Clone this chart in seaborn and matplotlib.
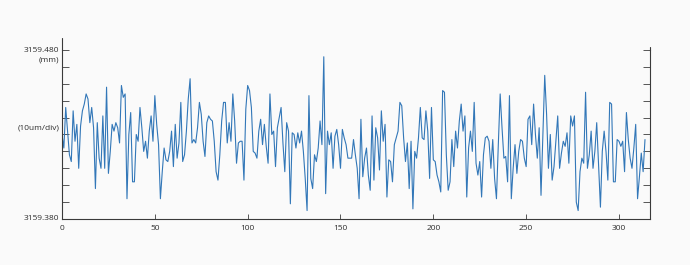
import matplotlib
matplotlib.use("Agg")
import matplotlib.pyplot as plt
import seaborn as sns
import numpy as np
import pandas as pd

# deviation above 3159.380 mm, in micrometres (10 um per division)
base_mm = 3159.380
dev_um = [
    50, 42, 66, 52, 38, 34, 64, 46, 56, 30,
    55, 64, 68, 74, 71, 57, 66, 54, 18, 57,
    36, 30, 61, 30, 78, 27, 40, 56, 52, 57,
    54, 45, 79, 72, 74, 12, 50, 63, 22, 22,
    50, 46, 66, 54, 40, 46, 36, 52, 61, 46,
    73, 56, 44, 12, 28, 42, 35, 34, 40, 52,
    31, 56, 36, 45, 69, 34, 38, 52, 71, 83,
    45, 47, 45, 54, 69, 62, 46, 37, 57, 61,
    59, 58, 46, 28, 23, 38, 58, 69, 69, 45,
    57, 46, 74, 58, 33, 45, 46, 46, 23, 65,
    79, 76, 66, 40, 39, 36, 52, 59, 44, 56,
    43, 33, 74, 50, 52, 31, 54, 60, 66, 45,
    28, 57, 52, 9, 51, 50, 42, 51, 45, 52,
    40, 24, 5, 73, 24, 18, 38, 34, 42, 58,
    44, 96, 15, 52, 44, 51, 30, 49, 53, 44,
    30, 53, 48, 44, 36, 36, 36, 47, 38, 30,
    12, 59, 25, 36, 42, 26, 17, 61, 23, 54,
    48, 29, 64, 46, 56, 13, 35, 34, 22, 44,
    48, 52, 69, 67, 48, 34, 45, 18, 46, 6,
    40, 36, 48, 66, 48, 47, 64, 52, 24, 66,
    35, 34, 26, 22, 16, 76, 75, 38, 17, 22,
    47, 31, 52, 42, 58, 68, 52, 61, 13, 42,
    52, 40, 69, 33, 26, 34, 13, 38, 48, 49,
    46, 30, 47, 24, 12, 44, 74, 54, 36, 37,
    22, 73, 12, 30, 44, 27, 40, 47, 46, 36,
    31, 59, 61, 44, 68, 50, 36, 54, 14, 50,
    85, 62, 30, 50, 23, 31, 46, 61, 30, 39,
    46, 43, 51, 33, 61, 55, 61, 10, 5, 28,
    36, 33, 75, 30, 38, 52, 30, 40, 57, 32,
    7, 40, 52, 40, 23, 69, 68, 22, 22, 47,
    46, 43, 46, 28, 63, 47, 36, 30, 42, 56,
    12, 25, 39, 28, 47,
]
x_ticks = [0, 50, 100, 150, 200, 250, 300]
y_top_label = "3159.480"
y_bottom_label = "3159.380"
unit_label = "(mm)"
div_label = "(10um/div)"

sample = np.arange(len(dev_um))
df = pd.DataFrame({"sample": sample, "value": base_mm + np.array(dev_um) / 1000.0})

sns.set_style("white")
plt.rcParams["font.family"] = ["Open Sans", "DejaVu Sans"]

bg = "#fafafa"
spine_c = "#3a3a3a"
text_c = "#2e2e2e"

fig = plt.figure(figsize=(6.9, 2.65), dpi=100, facecolor=bg)
W, H = 690, 265
ax = fig.add_axes([62 / W, 1 - 219 / H, (650 - 62) / W, (219 - 50) / H])
ax.set_facecolor(bg)

sns.lineplot(data=df, x="sample", y="value", ax=ax, color="#3277b8", linewidth=0.8)

ax.set_xlim(0, 316.7)
ax.set_ylim(base_mm, base_mm + 0.1)
ax.set_xlabel("")
ax.set_ylabel("")

ax.set_xticks(x_ticks)
ax.set_xticklabels([str(t) for t in x_ticks])
yt = [base_mm + i * 0.01 for i in range(11)]
ax.set_yticks(yt)
ax.set_yticklabels([])

for s in ["left", "right", "bottom"]:
    ax.spines[s].set_visible(True)
    ax.spines[s].set_color(spine_c)
    ax.spines[s].set_linewidth(0.8)
ax.spines["top"].set_visible(False)

ax.tick_params(axis="y", which="both", direction="in", left=True, right=True,
               length=4.8, width=0.7, color="#555555")
ax.tick_params(axis="x", which="both", direction="in", bottom=True, top=False,
               length=3.8, width=0.7, color="#555555", labelsize=6,
               labelcolor=text_c, pad=4)

# left spine extends a little above the plot top; right spine slightly too
ax.plot([0, 0], [1, 1.07], transform=ax.transAxes, clip_on=False,
        color=spine_c, linewidth=0.8)
ax.plot([1, 1], [1, 1.018], transform=ax.transAxes, clip_on=False,
        color=spine_c, linewidth=0.8)

tx = 59 / W
fs = 6
fig.text(tx, 1 - 50 / H, y_top_label, ha="right", va="center", fontsize=fs, color=text_c)
fig.text(tx, 1 - 60 / H, unit_label, ha="right", va="center", fontsize=fs, color=text_c)
fig.text(tx, 1 - 128 / H, div_label, ha="right", va="center", fontsize=fs, color=text_c)
fig.text(tx, 1 - 219 / H, y_bottom_label, ha="right", va="center", fontsize=fs, color=text_c)

fig.savefig("out.png", dpi=100, facecolor=bg)
